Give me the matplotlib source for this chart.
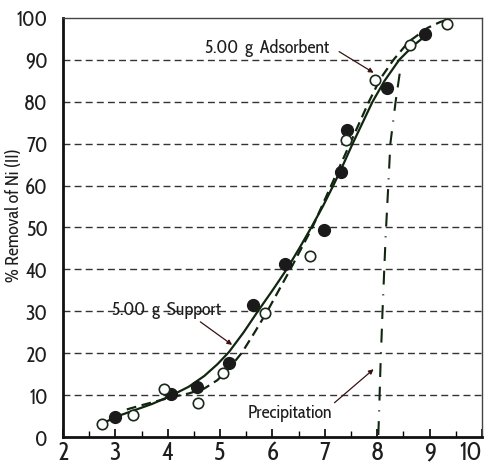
import matplotlib
matplotlib.use('Agg')
import matplotlib.pyplot as plt

plt.rcParams['font.family'] = ['Cabin Condensed', 'DejaVu Sans']
plt.rcParams['lines.scale_dashes'] = False

# pH vs % removal, filled = support, open = adsorbent
support_ph = [3.00, 4.07, 4.56, 5.17, 5.63, 6.23, 6.99, 7.31, 7.43, 8.18, 8.92]
support_rem = [4.8, 10.3, 11.9, 17.7, 31.5, 41.3, 49.4, 63.3, 73.3, 83.3, 96.2]
adsorb_ph = [2.74, 3.33, 3.92, 4.57, 5.05, 5.86, 6.71, 7.41, 7.96, 8.62, 9.34]
adsorb_rem = [3.1, 5.3, 11.4, 8.1, 15.3, 29.6, 43.2, 70.9, 85.2, 93.6, 98.6]

# fitted curves, read along their length
support_fit_ph = [2.74, 3.00, 3.34, 3.70, 4.05, 4.40, 4.70, 4.95, 5.17, 5.45, 5.72,
                  6.00, 6.27, 6.51, 6.74, 6.96, 7.16, 7.35, 7.53, 7.72, 7.91, 8.14,
                  8.42, 8.70, 9.00]
support_fit_rem = [3.1, 4.8, 6.3, 7.9, 9.8, 12.0, 14.6, 17.4, 20.3, 25.0, 30.0,
                   35.0, 40.0, 45.0, 50.0, 55.0, 60.0, 65.0, 70.0, 75.0, 80.0, 85.0,
                   90.0, 93.5, 96.5]
adsorb_fit_ph = [3.22, 3.50, 3.80, 4.10, 4.40, 4.70, 4.95, 5.20, 5.42, 5.65, 5.90,
                 6.12, 6.34, 6.55, 6.76, 6.94, 7.12, 7.30, 7.48, 7.66, 7.84, 8.06,
                 8.31, 8.60, 8.96, 9.20, 9.35]
adsorb_fit_rem = [6.6, 7.6, 8.6, 9.6, 10.4, 11.6, 13.6, 16.8, 20.2, 24.8, 30.0,
                  35.0, 40.0, 45.0, 50.0, 55.0, 60.0, 65.0, 70.0, 75.0, 80.0, 85.5,
                  90.0, 94.3, 97.6, 99.0, 99.6]
precip_ph = [8.02, 8.04, 8.06, 8.10, 8.14, 8.16, 8.21, 8.25, 8.35, 8.43, 8.47]
precip_rem = [0.5, 8.0, 16.5, 30.0, 42.0, 48.0, 60.0, 70.0, 80.0, 86.9, 88.5]

x_ticks = [2, 3, 4, 5, 6, 7, 8, 9, 10]
x_minor = [2.5, 3.5, 4.5, 5.5, 6.5, 7.5, 8.5, 9.5]
y_ticks = [0, 10, 20, 30, 40, 50, 60, 70, 80, 90, 100]

green = '#10260f'
arrow_col = '#3a1212'
ink = '#1e1e1e'

fig = plt.figure(figsize=(4.84, 4.69), dpi=100)
ax = fig.add_axes([0.130, 0.068, 0.866, 0.894])

ax.set_xlim(2, 10)
ax.set_ylim(0, 100)
ax.set_xticks(x_ticks, [str(t) for t in x_ticks])
ax.set_xticks(x_minor, minor=True)
ax.set_yticks(y_ticks, [str(t) for t in y_ticks])

for y in y_ticks[1:-1]:
    ax.axhline(y, color='#333333', lw=1.0, ls=(0, (5, 3)), zorder=1)

ax.plot(support_fit_ph, support_fit_rem, color=green, lw=1.6, zorder=3)
ax.plot(adsorb_fit_ph, adsorb_fit_rem, color=green, lw=1.6, ls=(0, (7, 4)), zorder=3)
ax.plot(precip_ph, precip_rem, color=green, lw=1.5,
        ls=(0, (10, 7, 0.8, 7, 10, 7)), zorder=3)

ax.plot(support_ph, support_rem, 'o', color='#1a1a1a', ms=8.5, zorder=4)
ax.plot(adsorb_ph, adsorb_rem, 'o', mfc='white', mec='#1a2a1a', mew=1.2, ms=7.5, zorder=4)

txt = dict(fontsize=13, color=ink)
arr = dict(arrowstyle='-|>', color=arrow_col, lw=0.9, shrinkA=0, shrinkB=0,
           mutation_scale=7)
ax.annotate('5.00  g  Adsorbent', xy=(7.93, 86.9), xytext=(4.71, 92.8),
            va='center', ha='left', arrowprops=dict(relpos=(1.08, 0.3), **arr), **txt)
ax.annotate('5.00  g  Support', xy=(5.23, 22.0), xytext=(2.94, 30.3),
            va='center', ha='left', arrowprops=dict(relpos=(0.75, 0.1), **arr), **txt)
ax.annotate('Precipitation', xy=(7.93, 16.2), xytext=(5.52, 5.7),
            va='center', ha='left', arrowprops=dict(relpos=(1.0, 0.95), **arr), **txt)

ax.set_ylabel('% Removal of Ni (II)', fontsize=13, color=ink)
ax.yaxis.set_label_coords(-0.095, 0.53)

ax.tick_params(axis='x', which='major', direction='in', length=6, width=1.2,
               labelsize=18, labelcolor=ink, pad=2, top=False)
ax.tick_params(axis='x', which='minor', direction='in', length=4, width=1.0, top=False)
ax.tick_params(axis='y', which='both', length=0, labelsize=15, labelcolor=ink, pad=11)
ax.xaxis.get_major_ticks()[-1].label1.set_horizontalalignment('right')

for s in ['left', 'bottom']:
    ax.spines[s].set_linewidth(2.0)
    ax.spines[s].set_color('#111111')
for s in ['top', 'right']:
    ax.spines[s].set_linewidth(1.0)
    ax.spines[s].set_color('#444444')

fig.savefig('out.png', dpi=100)
